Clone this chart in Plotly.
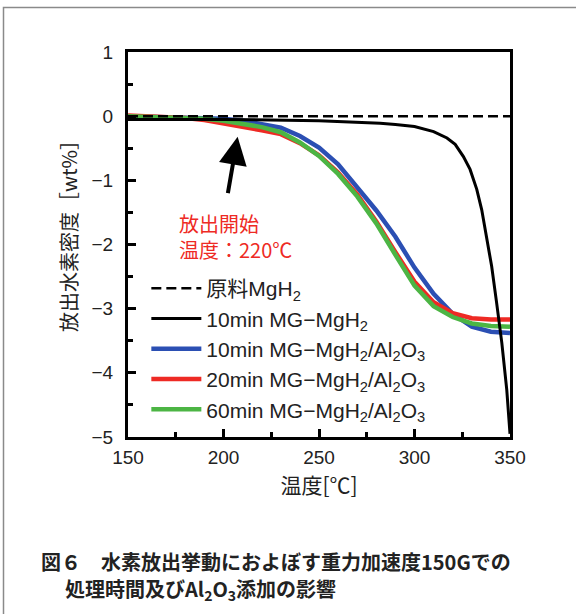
import plotly.graph_objects as go

# ---- data ----
temp = [150, 160, 170, 180, 190, 200, 210, 220, 230, 240, 250, 260, 270, 280, 290, 300, 310, 320, 330, 340, 350]
blue_10min_al2o3 = [0.0, -0.01, -0.01, -0.02, -0.03, -0.04, -0.07, -0.12, -0.18, -0.31, -0.49, -0.75, -1.10, -1.47, -1.88, -2.36, -2.77, -3.08, -3.28, -3.36, -3.38]
red_20min_al2o3 = [0.01, 0.0, -0.01, -0.03, -0.06, -0.11, -0.16, -0.22, -0.28, -0.42, -0.61, -0.88, -1.22, -1.64, -2.12, -2.58, -2.90, -3.07, -3.15, -3.17, -3.17]
green_60min_al2o3 = [0.0, -0.01, -0.01, -0.02, -0.04, -0.07, -0.12, -0.17, -0.25, -0.41, -0.62, -0.90, -1.25, -1.67, -2.16, -2.64, -2.96, -3.13, -3.23, -3.27, -3.28]

temp_raw = [150, 350]
raw_mgh2 = [0.0, 0.0]

temp_mg = [150, 200, 250, 270, 282, 290, 300, 310, 317, 321.3, 325.6, 329.1, 332.6, 335.2, 337.8, 340.4, 343, 345.7, 348.3, 350]
mg_10min = [-0.05, -0.05, -0.07, -0.09, -0.11, -0.13, -0.16, -0.24, -0.34, -0.44, -0.63, -0.83, -1.14, -1.46, -1.87, -2.34, -2.91, -3.53, -4.26, -4.95]

x_ticks = [150, 200, 250, 300, 350]
y_ticks = [1, 0, -1, -2, -3, -4, -5]

LATIN = "Liberation Sans, Arial, Noto Sans CJK JP"
CJK = "Noto Sans CJK JP"

fig = go.Figure()
fig.add_trace(go.Scatter(x=temp, y=blue_10min_al2o3, mode="lines",
                         line=dict(color="#2b4fb3", width=4.5),
                         name="10min MG−MgH<sub>2</sub>/Al<sub>2</sub>O<sub>3</sub>", legendrank=3))
fig.add_trace(go.Scatter(x=temp, y=red_20min_al2o3, mode="lines",
                         line=dict(color="#ee2a24", width=4.5),
                         name="20min MG−MgH<sub>2</sub>/Al<sub>2</sub>O<sub>3</sub>", legendrank=4))
fig.add_trace(go.Scatter(x=temp, y=green_60min_al2o3, mode="lines",
                         line=dict(color="#4cb544", width=4.5),
                         name="60min MG−MgH<sub>2</sub>/Al<sub>2</sub>O<sub>3</sub>", legendrank=5))
fig.add_trace(go.Scatter(x=temp_raw, y=raw_mgh2, mode="lines",
                         line=dict(color="black", width=2.5, dash="10px,5px"),
                         name="原料MgH<sub>2</sub>", legendrank=1))
fig.add_trace(go.Scatter(x=temp_mg, y=mg_10min, mode="lines",
                         line=dict(color="black", width=3),
                         name="10min MG−MgH<sub>2</sub>", legendrank=2))

axis_common = dict(showline=True, linecolor="black", linewidth=3, mirror=True,
                   ticks="inside", tickcolor="black", tickwidth=2.5, ticklen=8,
                   showgrid=False, zeroline=False,
                   tickfont=dict(family=LATIN, size=19, color="#222"))

fig.update_xaxes(range=[150, 350], tickvals=x_ticks, ticklabelstandoff=1,
                 minor=dict(dtick=25, ticks="inside", ticklen=5, tickwidth=2.5, tickcolor="black"),
                 title=dict(text="温度[℃]", font=dict(family=CJK, size=21, color="#222"), standoff=12),
                 **axis_common)
fig.update_yaxes(range=[-5, 1], tickvals=y_ticks, ticklabelstandoff=8,
                 minor=dict(dtick=0.5, ticks="inside", ticklen=5, tickwidth=2.5, tickcolor="black"),
                 **axis_common)

# y-axis title
fig.add_annotation(text="放出水素密度［wt%］", xref="paper", yref="paper",
                   x=(68 - 128) / 382, y=(437 - 231) / 385, textangle=-90, showarrow=False,
                   xanchor="center", yanchor="middle",
                   font=dict(family=CJK, size=20, color="#222"))

# onset annotation
fig.add_annotation(text="放出開始<br>温度：220℃", xref="paper", yref="paper",
                   x=(177 - 128) / 382, y=(437 - 236) / 385, xanchor="left", yanchor="middle",
                   align="left", showarrow=False,
                   font=dict(family=CJK, size=20, color="#ee2a24"))
fig.add_annotation(x=207.4, y=-0.32, ax=-10, ay=58, text="", showarrow=True,
                   arrowhead=2, arrowsize=1.4, arrowwidth=4, arrowcolor="black",
                   font=dict(size=1))

# caption
fig.add_annotation(text="<b>図６　水素放出挙動におよぼす重力加速度150Gでの</b>",
                   xref="paper", yref="paper", x=(39 - 128) / 382, y=(437 - 561) / 385,
                   xanchor="left", yanchor="middle", showarrow=False,
                   font=dict(family=CJK, size=20, color="#222"))
fig.add_annotation(text="<b>処理時間及びAl<sub>2</sub>O<sub>3</sub>添加の影響</b>",
                   xref="paper", yref="paper", x=(63 - 128) / 382, y=(437 - 589) / 385,
                   xanchor="left", yanchor="middle", showarrow=False,
                   font=dict(family=CJK, size=20, color="#222"))

# outer frame
fig.add_shape(type="rect", xref="paper", yref="paper",
              x0=(3.5 - 128) / 382, x1=(600 - 128) / 382,
              y0=(437 - 650) / 385, y1=(437 - 7.5) / 385,
              line=dict(color="#8a8a8a", width=1.5), layer="below")

fig.update_layout(
    width=576, height=614,
    margin=dict(l=128, r=66, t=52, b=177),
    paper_bgcolor="white", plot_bgcolor="white",
    showlegend=True,
    legend=dict(x=0.048, y=(437 - 268) / 385, xanchor="left", yanchor="top",
                bgcolor="rgba(0,0,0,0)", itemwidth=50,
                font=dict(family=LATIN + ", " + CJK, size=21, color="#222"),
                tracegroupgap=0),
)

fig.write_html("out.html")
